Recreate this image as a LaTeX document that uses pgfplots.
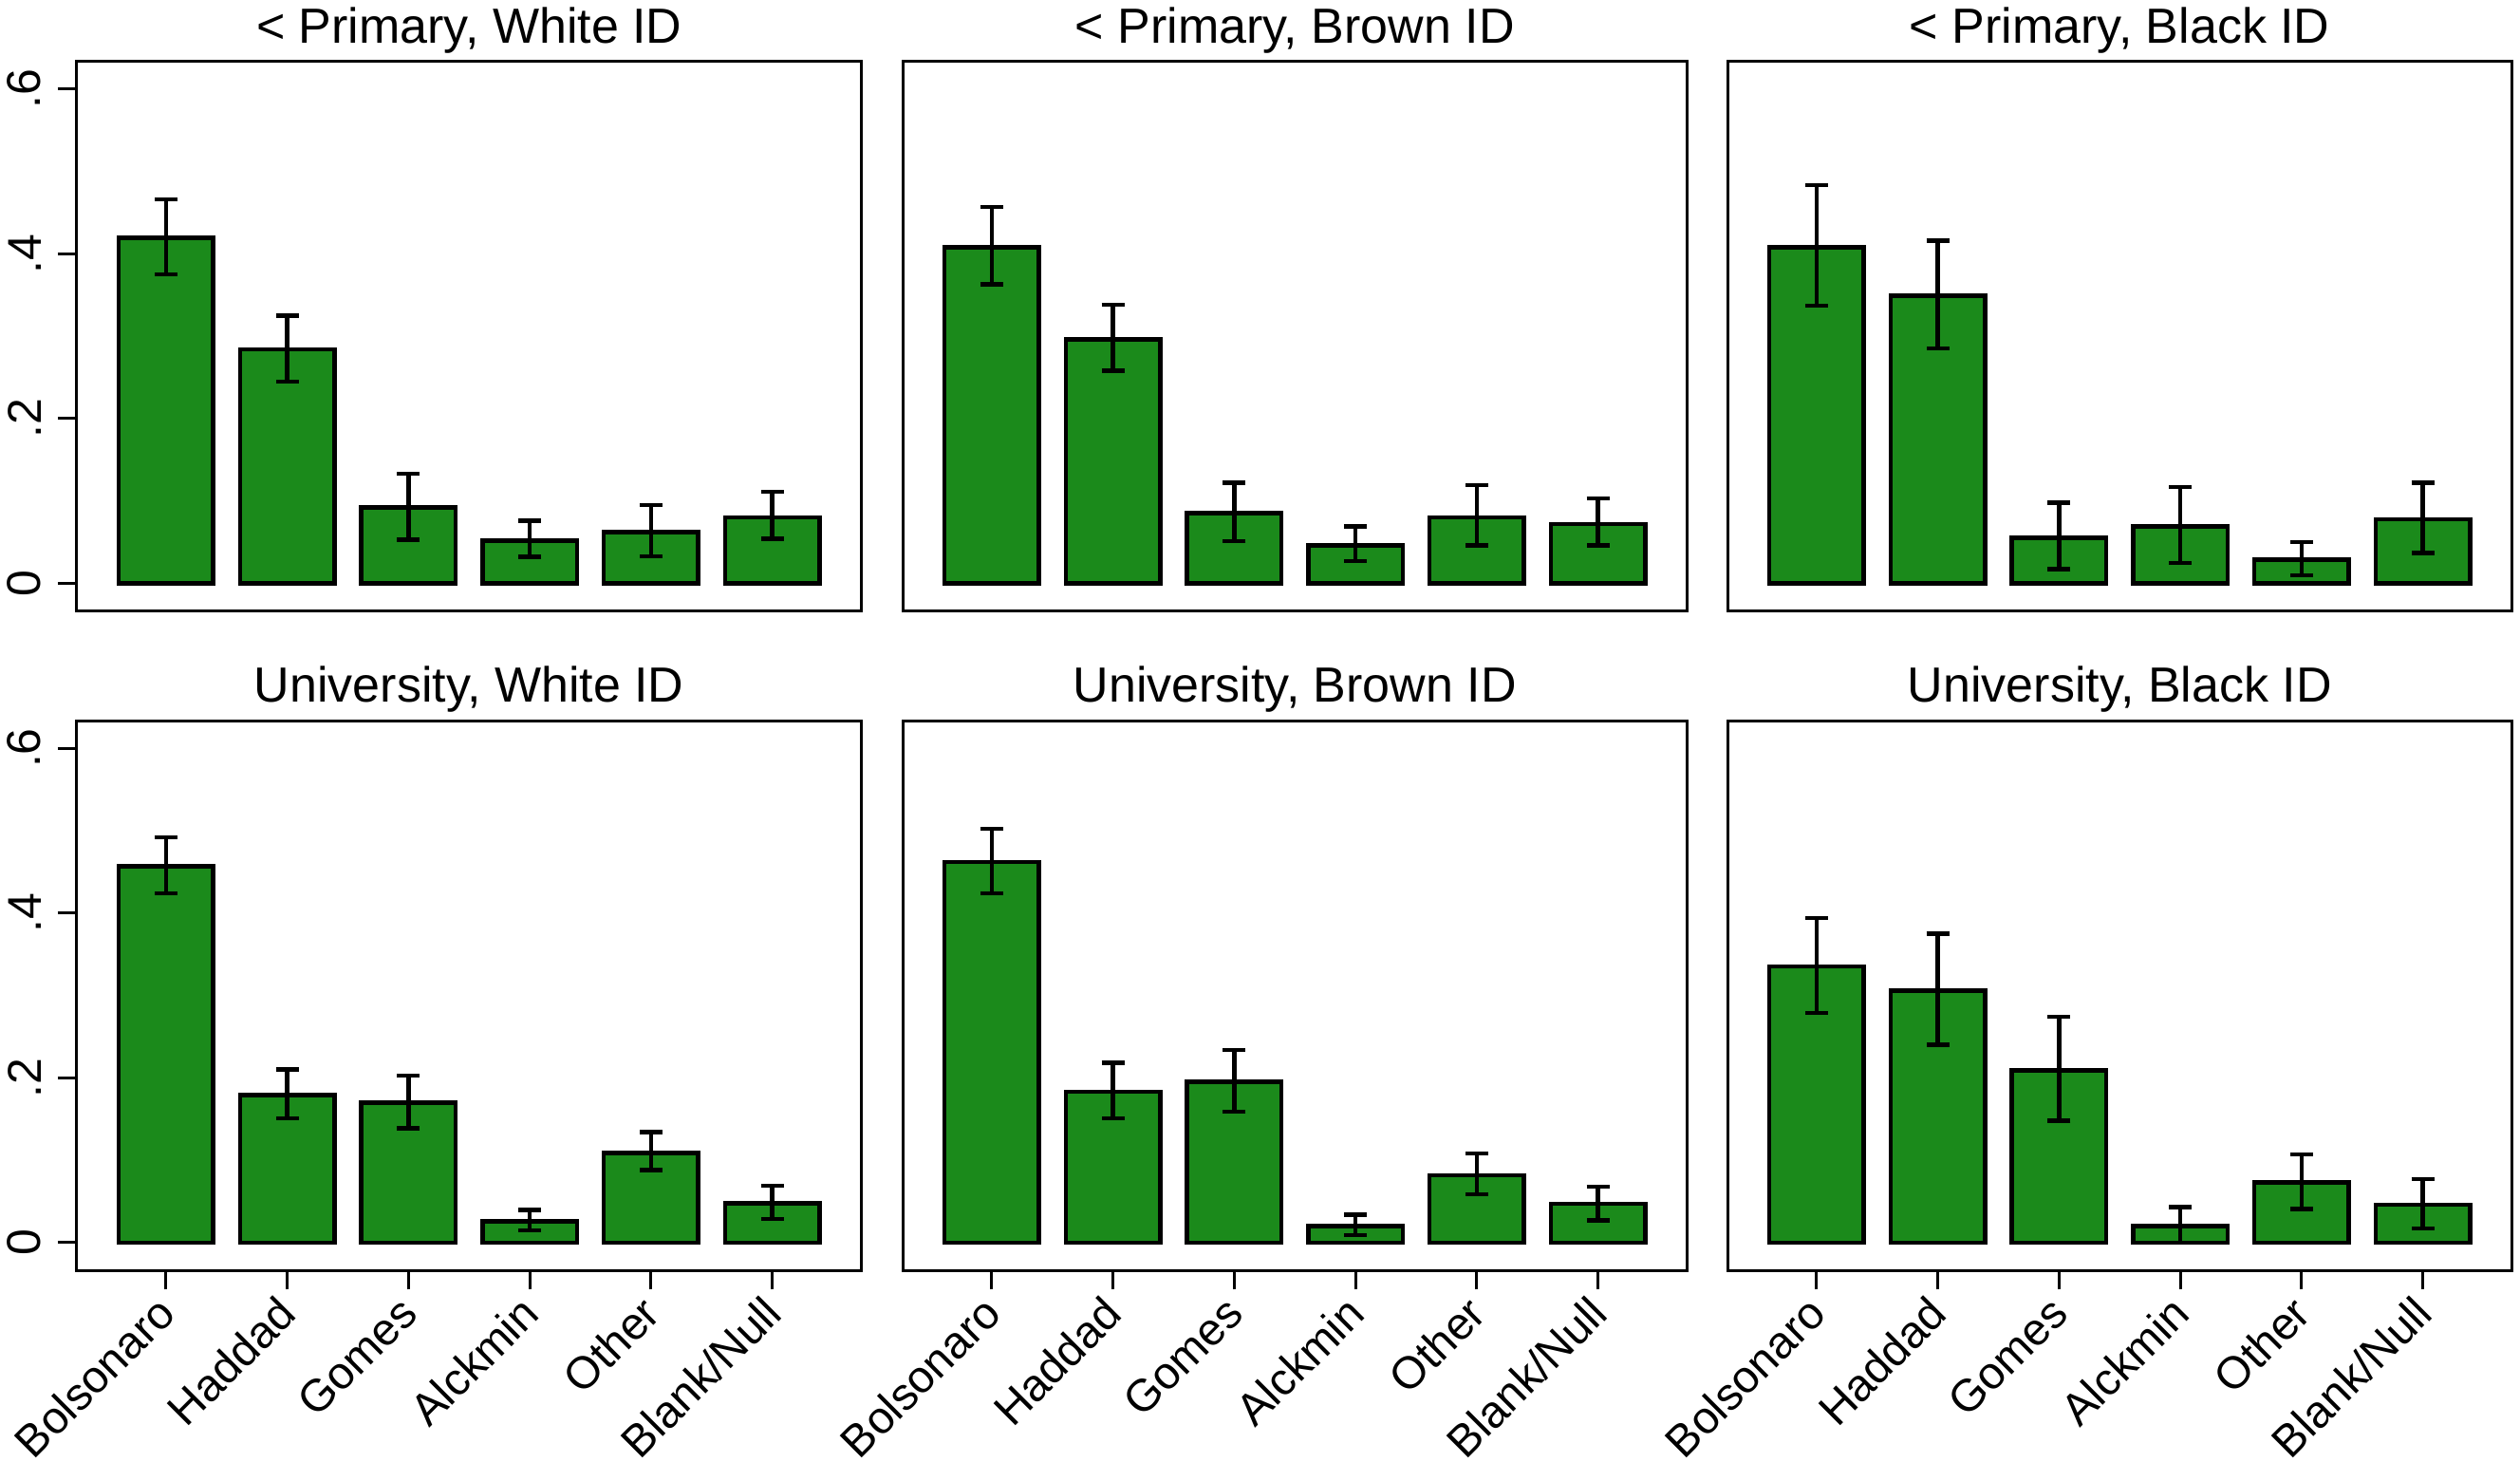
\documentclass[border=0pt]{standalone}
\usepackage{fontspec}
\setmainfont{Liberation Sans}
\usepackage{pgfplots}
\usepackage{pgfplotstable}
\pgfplotsset{compat=1.18}
\definecolor{barg}{RGB}{27,138,27}

% columns: x = category (1 Bolsonaro ... 6 Blank/Null), y = share, ep/em = CI above/below
\pgfplotstableread{
x y ep em
1 0.419 0.047 0.044
2 0.284 0.041 0.039
3 0.092 0.041 0.039
4 0.052 0.024 0.020
5 0.062 0.033 0.029
6 0.080 0.031 0.026
}\pw
\pgfplotstableread{
x y ep em
1 0.408 0.049 0.045
2 0.296 0.042 0.038
3 0.085 0.037 0.034
4 0.046 0.023 0.019
5 0.080 0.039 0.034
6 0.072 0.031 0.026
}\pb
\pgfplotstableread{
x y ep em
1 0.408 0.075 0.071
2 0.349 0.067 0.064
3 0.055 0.043 0.038
4 0.069 0.048 0.044
5 0.029 0.021 0.019
6 0.078 0.044 0.041
}\pk
\pgfplotstableread{
x y ep em
1 0.457 0.035 0.033
2 0.179 0.031 0.028
3 0.170 0.033 0.031
4 0.026 0.014 0.011
5 0.109 0.025 0.021
6 0.048 0.021 0.019
}\uw
\pgfplotstableread{
x y ep em
1 0.462 0.040 0.038
2 0.183 0.035 0.032
3 0.195 0.039 0.036
4 0.020 0.014 0.011
5 0.082 0.026 0.023
6 0.047 0.021 0.020
}\ub
\pgfplotstableread{
x y ep em
1 0.335 0.059 0.056
2 0.306 0.069 0.066
3 0.209 0.065 0.061
4 0.020 0.023 0.020
5 0.073 0.034 0.032
6 0.046 0.031 0.029
}\uk

\pgfplotsset{
  every axis title/.style={at={(0.5,1)}, anchor=base, yshift=3.9pt,
    font=\fontsize{10.4}{12}\selectfont},
  panel/.style={
    scale only axis, width=165.3pt, height=115.8pt,
    xmin=0.265, xmax=6.735, ymin=-0.034, ymax=0.633,
    ybar, bar width=0.78,
    axis line style={line width=0.6pt, black},
    tick style={line width=0.6pt, black},
    tick align=outside, major tick length=4pt,
    xtick=\empty, ytick=\empty,
    /pgf/number format/assume math mode=true,
  },
  yax/.style={ytick={0,0.2,0.4,0.6}, yticklabels={0,.2,.4,.6}, ytick pos=left,
    yticklabel style={rotate=90, anchor=south, font=\fontsize{10}{12}\selectfont}},
  xax/.style={xtick={1,2,3,4,5,6}, xticklabels={Bolsonaro,Haddad,Gomes,Alckmin,Other,Blank/Null},
    xtick pos=bottom, xticklabel style={xshift=2.5pt, yshift=-0.8pt, rotate=45, anchor=east,
    font=\fontsize{9.5}{11}\selectfont}},
  bars/.style={fill=barg, draw=black, line width=0.9pt,
    error bars/.cd, y dir=both, y explicit,
    error bar style={line width=0.9pt, black},
    error mark options={rotate=90, line width=0.9pt, mark size=2.4pt, black}},
}

\begin{document}
\begin{tikzpicture}
\useasboundingbox (0,0) rectangle (531pt,308pt);

\begin{axis}[panel, yax, title={< Primary, White ID}, at={(16.2pt,179.2pt)}, anchor=south west]
\addplot[bars] table[x=x, y=y, y error plus=ep, y error minus=em] {\pw};
\end{axis}
\begin{axis}[panel, title={< Primary, Brown ID}, at={(190.2pt,179.2pt)}, anchor=south west]
\addplot[bars] table[x=x, y=y, y error plus=ep, y error minus=em] {\pb};
\end{axis}
\begin{axis}[panel, title={< Primary, Black ID}, at={(364.0pt,179.2pt)}, anchor=south west]
\addplot[bars] table[x=x, y=y, y error plus=ep, y error minus=em] {\pk};
\end{axis}

\begin{axis}[panel, yax, xax, title={University, White ID}, at={(16.2pt,40.3pt)}, anchor=south west]
\addplot[bars] table[x=x, y=y, y error plus=ep, y error minus=em] {\uw};
\end{axis}
\begin{axis}[panel, xax, title={University, Brown ID}, at={(190.2pt,40.3pt)}, anchor=south west]
\addplot[bars] table[x=x, y=y, y error plus=ep, y error minus=em] {\ub};
\end{axis}
\begin{axis}[panel, xax, title={University, Black ID}, at={(364.0pt,40.3pt)}, anchor=south west]
\addplot[bars] table[x=x, y=y, y error plus=ep, y error minus=em] {\uk};
\end{axis}
\end{tikzpicture}
\end{document}
